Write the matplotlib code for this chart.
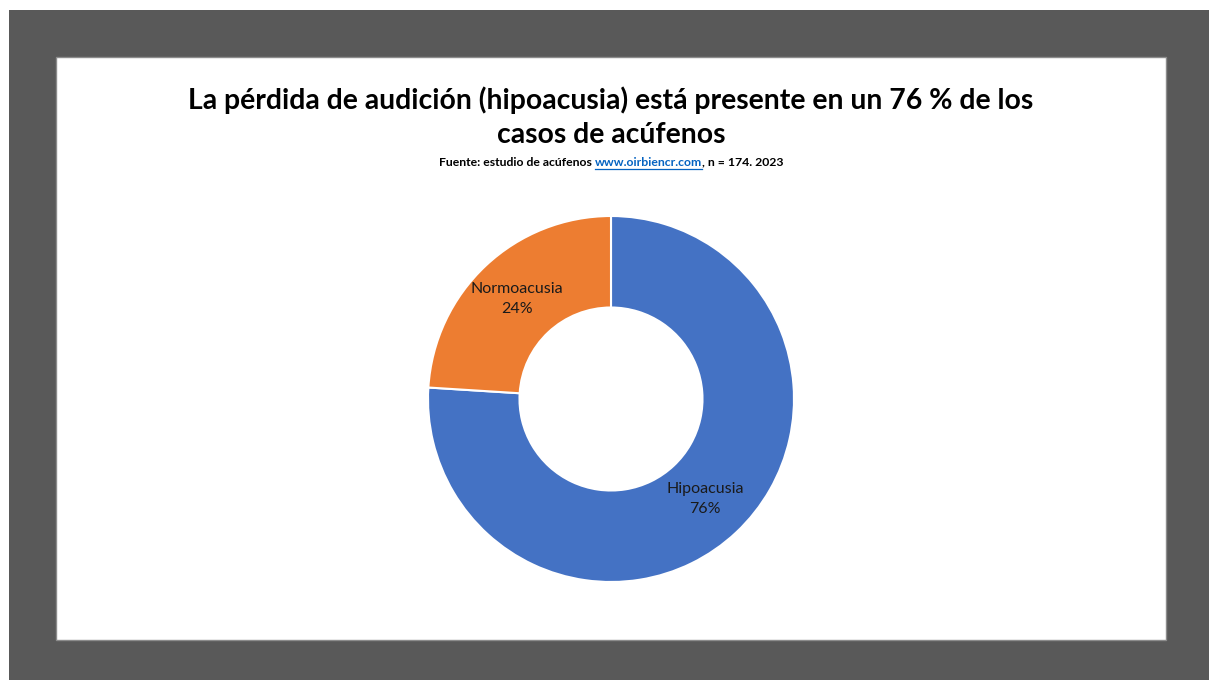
import matplotlib
matplotlib.use("Agg")
import numpy as np
import matplotlib.pyplot as plt
from matplotlib.patches import Rectangle

plt.rcParams["font.family"] = ["Lato", "DejaVu Sans"]

categories = ["Hipoacusia", "Normoacusia"]
shares = [76, 24]
colors = ["#4472C4", "#ED7D31"]

title = "La pérdida de audición (hipoacusia) está presente en un 76 % de los\ncasos de acúfenos"
source_parts = [("Fuente: estudio de acúfenos ", "#000000"),
                ("www.oirbiencr.com", "#0563C1"),
                (", n = 174. 2023", "#000000")]

W, H = 1209, 680
fig = plt.figure(figsize=(W / 100, H / 100), dpi=100, facecolor="white")

# dark frame + white slide panel
fig.patches.append(Rectangle((9 / W, 0), 1 - 9 / W, (H - 10) / H, transform=fig.transFigure,
                             facecolor="#595959", edgecolor="none", zorder=-2))
fig.patches.append(Rectangle((56 / W, (H - 640) / H), 1110 / W, 583 / H, transform=fig.transFigure,
                             facecolor="white", edgecolor="#8c8c8c", linewidth=1, zorder=-1))

fig.text(611 / W, 1 - 117 / H, title, ha="center", va="center", fontsize=20.4,
         fontweight="bold", color="black", linespacing=1.4)

# source line, built from pieces so the link can be coloured and underlined
renderer = fig.canvas.get_renderer()
fs = 8.8
widths = []
for txt, col in source_parts:
    t = fig.text(0, 0, txt, fontsize=fs, fontweight="bold")
    widths.append(t.get_window_extent(renderer).width)
    t.remove()
x = 611 - sum(widths) / 2
y = H - 162
for (txt, col), w in zip(source_parts, widths):
    fig.text(x / W, y / H, txt, fontsize=fs, fontweight="bold", color=col, va="center", ha="left")
    if col != "#000000":
        fig.add_artist(plt.Line2D([x / W, (x + w) / W], [(y - 7) / H, (y - 7) / H],
                                  transform=fig.transFigure, color=col, linewidth=0.9))
    x += w

cx, cy, r = 611, 399, 183
ax = fig.add_axes([(cx - r) / W, (H - cy - r) / H, 2 * r / W, 2 * r / H])
ax.set_zorder(2)
wedges, _ = ax.pie(shares, colors=colors, startangle=90, counterclock=False, radius=1,
                   wedgeprops=dict(width=0.5, edgecolor="white", linewidth=1.5))
ax.set_xlim(-1, 1)
ax.set_ylim(-1, 1)
ax.set_aspect("equal")
ax.axis("off")

for w, name, val in zip(wedges, categories, shares):
    ang = np.deg2rad((w.theta1 + w.theta2) / 2)
    ax.text(0.75 * np.cos(ang), 0.75 * np.sin(ang), f"{name}\n{val}%", ha="center", va="center",
            fontsize=11.5, color="#1a1a1a", linespacing=1.55)

fig.savefig("out.png", dpi=100, facecolor="white")
